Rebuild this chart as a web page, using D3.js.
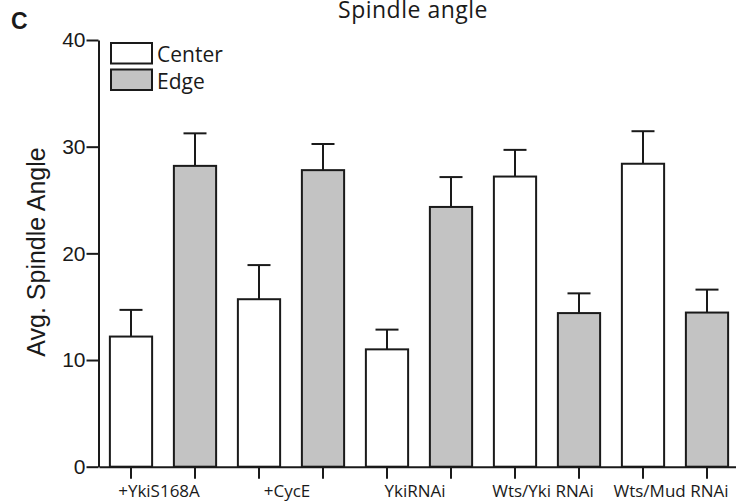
<!DOCTYPE html>
<html>
<head>
<meta charset="utf-8">
<script src="https://cdn.jsdelivr.net/npm/d3@7"></script>
<style>
  html, body { margin: 0; padding: 0; background: #fff; }
  svg { display: block; }
</style>
</head>
<body>
<svg id="chart" width="736" height="504"></svg>
<script>
const categories = ["+YkiS168A", "+CycE", "YkiRNAi", "Wts/Yki RNAi", "Wts/Mud RNAi"];
const seriesNames = ["Center", "Edge"];
const centerMeans = [12.2, 15.7, 11.0, 27.2, 28.4];
const centerErrors = [2.5, 3.2, 1.85, 2.5, 3.05];
const edgeMeans = [28.2, 27.8, 24.35, 14.4, 14.45];
const edgeErrors = [3.05, 2.45, 2.8, 1.85, 2.15];
const yTicks = [0, 10, 20, 30, 40];
const titleText = "Spindle angle";
const yTitle = "Avg. Spindle Angle";
const panelLabel = "C";

const ink = "#1a1a1a";
const fills = { Center: "#ffffff", Edge: "#c3c3c3" };

const rows = [];
categories.forEach((c, i) => {
  rows.push({ cat: c, series: "Center", value: centerMeans[i], err: centerErrors[i] });
  rows.push({ cat: c, series: "Edge", value: edgeMeans[i], err: edgeErrors[i] });
});

const svg = d3.select("#chart");

const y = d3.scaleLinear().domain([0, 40]).range([466.7, 40]);
const x0 = d3.scaleBand().domain(categories).range([99, 739]).padding(0);
const xb = d3.scaleBand()
  .domain(rows.map(d => d.cat + "|" + d.series))
  .range([99, 739])
  .paddingInner(0.34)
  .paddingOuter(0.17);

// Bars
svg.append("g").selectAll("rect")
  .data(rows)
  .join("rect")
  .attr("x", d => xb(d.cat + "|" + d.series))
  .attr("y", d => y(d.value))
  .attr("width", xb.bandwidth())
  .attr("height", d => y(0) - y(d.value))
  .attr("fill", d => fills[d.series])
  .attr("stroke", ink)
  .attr("stroke-width", 2);

// Error bars (upper only)
const capW = 23;
const eg = svg.append("g").attr("stroke", ink).attr("stroke-width", 2);
rows.forEach(d => {
  const cx = xb(d.cat + "|" + d.series) + xb.bandwidth() / 2;
  eg.append("line").attr("x1", cx).attr("x2", cx)
    .attr("y1", y(d.value)).attr("y2", y(d.value + d.err));
  eg.append("line").attr("x1", cx - capW / 2).attr("x2", cx + capW / 2)
    .attr("y1", y(d.value + d.err)).attr("y2", y(d.value + d.err));
});

// Y axis
const yAxis = svg.append("g")
  .attr("transform", "translate(98.5,0)")
  .call(d3.axisLeft(y).tickValues(yTicks).tickSize(12).tickSizeOuter(0).tickPadding(1));
yAxis.selectAll("path, line").attr("stroke", ink).attr("stroke-width", 2);
yAxis.selectAll("text")
  .attr("font-family", "'Liberation Sans', Arial, sans-serif")
  .attr("font-size", 21)
  .attr("fill", ink);

// X axis
const xAxis = svg.append("g")
  .attr("transform", "translate(0,466.7)")
  .call(d3.axisBottom(xb).tickSize(12).tickSizeOuter(0).tickFormat(""));
xAxis.selectAll("path, line").attr("stroke", ink).attr("stroke-width", 2);

// Category labels
svg.append("g").selectAll("text")
  .data(categories)
  .join("text")
  .attr("x", d => x0(d) + x0.bandwidth() / 2 - 4)
  .attr("y", 497)
  .attr("text-anchor", "middle")
  .attr("font-family", "'Open Sans', sans-serif")
  .attr("font-size", 17)
  .attr("fill", ink)
  .text(d => d);

// Y title
svg.append("text")
  .attr("transform", "translate(45,252) rotate(-90)")
  .attr("text-anchor", "middle")
  .attr("font-family", "'Liberation Sans', Arial, sans-serif")
  .attr("font-size", 25)
  .attr("fill", ink)
  .text(yTitle);

// Title
svg.append("text")
  .attr("x", 413)
  .attr("y", 18)
  .attr("text-anchor", "middle")
  .attr("font-family", "'Open Sans', sans-serif")
  .attr("font-size", 23)
  .attr("letter-spacing", 0.5)
  .attr("fill", ink)
  .text(titleText);

// Panel label
svg.append("text")
  .attr("x", 11)
  .attr("y", 29)
  .attr("font-family", "'Liberation Sans', Arial, sans-serif")
  .attr("font-weight", "bold")
  .attr("font-size", 23)
  .attr("fill", ink)
  .text(panelLabel);

// Legend
const lg = svg.append("g");
seriesNames.forEach((s, i) => {
  lg.append("rect")
    .attr("x", 111).attr("y", 43 + i * 26.5)
    .attr("width", 41).attr("height", 20.5)
    .attr("fill", fills[s]).attr("stroke", ink).attr("stroke-width", 2);
  lg.append("text")
    .attr("x", 157).attr("y", 62 + i * 26.5)
    .attr("font-family", "'Open Sans', sans-serif")
    .attr("font-size", 21)
    .attr("fill", ink)
    .text(s);
});
</script>
</body>
</html>
